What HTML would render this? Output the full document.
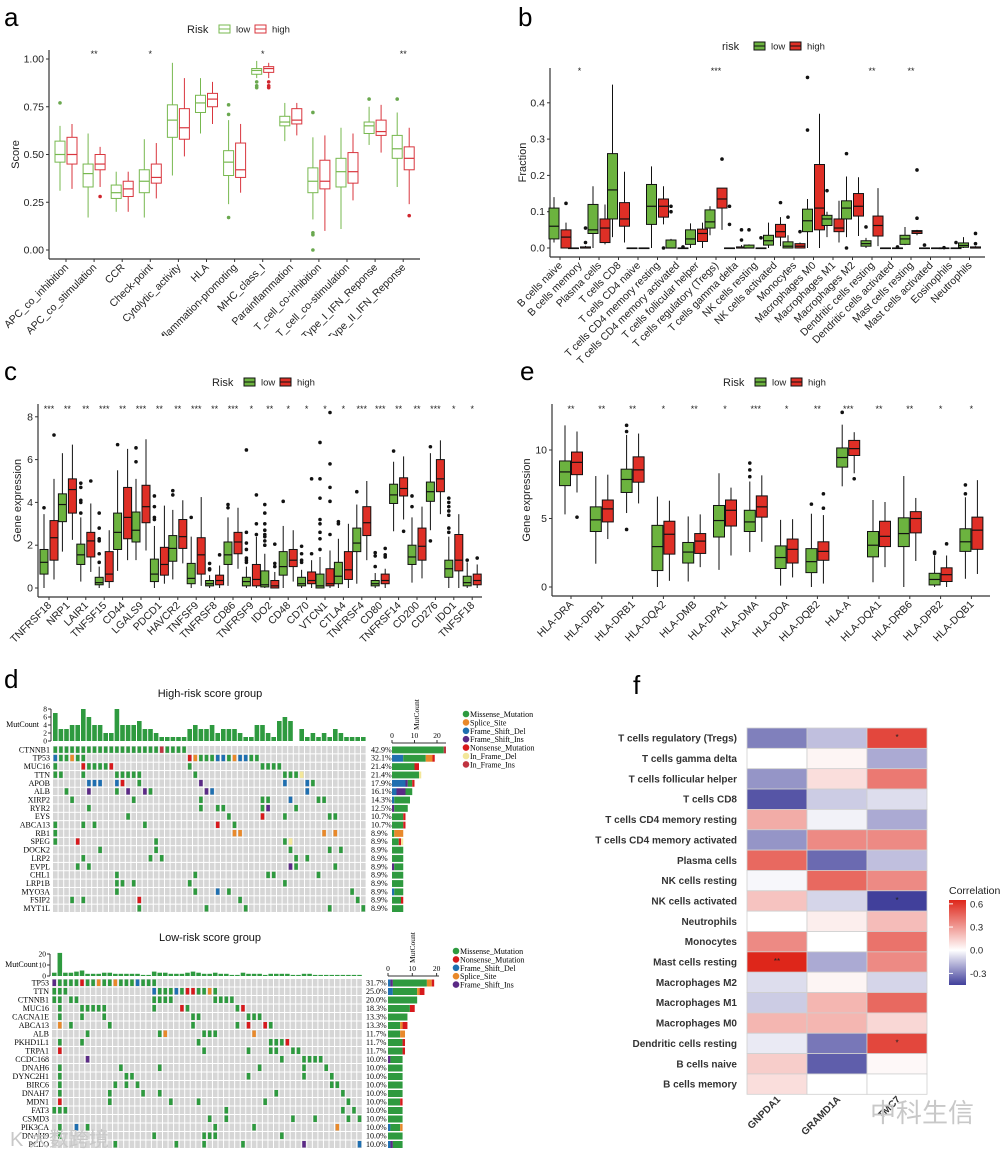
<!DOCTYPE html>
<html><head><meta charset="utf-8"><style>
html,body{margin:0;padding:0;background:#fff;}
svg{display:block;font-family:"Liberation Sans",sans-serif;}
.serif{font-family:"Liberation Serif",serif;}
</style></head><body>
<svg id="fig" width="1004" height="1151" viewBox="0 0 1004 1151" xmlns="http://www.w3.org/2000/svg">
<rect width="1004" height="1151" fill="#fff"/>
<g id="pa"></g>
<rect x="0" y="336" width="500" height="10" fill="#fff"/>
<g id="pb"></g>
<g id="pc"></g>
<g id="pe"></g>
<g id="pd"></g>
<g id="pf"></g>
<text x="4" y="26" font-size="26">a</text>
<text x="518" y="26" font-size="26">b</text>
<text x="4" y="380" font-size="26">c</text>
<text x="520" y="380" font-size="26">e</text>
<text x="4" y="688" font-size="26">d</text>
<text x="633" y="694" font-size="26">f</text>
<text x="870" y="1122" font-size="26" fill="#c8c8c8" font-family="'Noto Sans CJK SC',sans-serif">中科生信</text>
<text x="10" y="1146" font-size="20" fill="#c8c8c8" font-family="'Liberation Sans','Noto Sans CJK SC',sans-serif">K 大数跨境</text>
</svg>
<script>
// ---------- data: panel a ----------
const aCats=["APC_co_inhibition","APC_co_stimulation","CCR","Check-point","Cytolytic_activity","HLA","Inflammation-promoting","MHC_class_I","Parainflammation","T_cell_co-inhibition","T_cell_co-stimulation","Type_I_IFN_Reponse","Type_II_IFN_Reponse"];
const aLow=[[0.31,0.46,0.50,0.57,0.65],[0.17,0.33,0.40,0.45,0.61],[0.20,0.27,0.30,0.34,0.41],[0.17,0.30,0.36,0.42,0.58],[0.39,0.59,0.68,0.76,0.98],[0.61,0.72,0.77,0.81,0.90],[0.24,0.39,0.46,0.52,0.68],[0.90,0.92,0.94,0.95,0.99],[0.57,0.65,0.67,0.70,0.77],[0.16,0.30,0.36,0.43,0.59],[0.11,0.33,0.41,0.48,0.64],[0.55,0.61,0.65,0.67,0.75],[0.33,0.48,0.53,0.60,0.72]];
const aHigh=[[0.32,0.45,0.50,0.59,0.66],[0.33,0.42,0.45,0.50,0.54],[0.20,0.28,0.32,0.36,0.41],[0.27,0.35,0.38,0.45,0.56],[0.49,0.58,0.64,0.74,0.90],[0.66,0.75,0.79,0.82,0.88],[0.30,0.38,0.42,0.56,0.66],[0.90,0.93,0.95,0.96,0.98],[0.60,0.66,0.68,0.74,0.77],[0.10,0.32,0.36,0.47,0.60],[0.26,0.35,0.41,0.51,0.61],[0.51,0.60,0.62,0.68,0.76],[0.24,0.42,0.48,0.54,0.64]];
const aLowOut=[[0.77],[],[],[],[],[],[0.76,0.71,0.17],[0.88,0.86,0.85],[],[0.72,0.09,0.08,0.0],[],[0.79],[0.79]];
const aHighOut=[[],[0.28],[],[],[],[],[],[0.88,0.86,0.85],[],[],[],[],[0.18]];
const aStars=["","**","","*","","","","*","","","","","**"];
const aTicks=[0,0.25,0.5,0.75,1.0];
const aTickLabels=["0.00","0.25","0.50","0.75","1.00"];
// ---------- data: panel b ----------
const bCats=["B cells naive","B cells memory","Plasma cells","T cells CD8","T cells CD4 naive","T cells CD4 memory resting","T cells CD4 memory activated","T cells follicular helper","T cells regulatory (Tregs)","T cells gamma delta","NK cells resting","NK cells activated","Monocytes","Macrophages M0","Macrophages M1","Macrophages M2","Dendritic cells resting","Dendritic cells activated","Mast cells resting","Mast cells activated","Eosinophils","Neutrophils"];
const bLow=[[0.015,0.025,0.06,0.11,0.14],[0,0,0,0,0],[0,0.04,0.05,0.12,0.17],[0.03,0.08,0.16,0.26,0.45],[0,0,0,0,0],[0,0.065,0.115,0.175,0.225],[0,0,0,0.022,0.025],[0,0.01,0.025,0.05,0.068],[0.035,0.055,0.072,0.105,0.115],[0,0,0,0,0],[0,0,0,0.008,0.01],[0,0.008,0.02,0.035,0.07],[0,0,0.005,0.017,0.035],[0,0.045,0.075,0.107,0.135],[0.03,0.062,0.08,0.09,0.1],[0.03,0.08,0.11,0.13,0.197],[0,0.005,0.012,0.02,0.028],[0,0,0,0,0],[0.008,0.01,0.025,0.035,0.058],[0,0,0,0,0],[0,0,0,0,0],[0,0.002,0.007,0.014,0.03]];
const bHigh=[[0,0,0.03,0.05,0.07],[0,0,0,0.003,0.006],[0.01,0.015,0.055,0.08,0.12],[0.015,0.06,0.08,0.125,0.21],[0,0,0,0,0],[0.065,0.085,0.115,0.135,0.17],[0,0,0,0,0.005],[0,0.018,0.04,0.052,0.07],[0.05,0.11,0.135,0.165,0.165],[0,0,0,0.003,0.008],[0,0,0,0,0],[0.005,0.03,0.045,0.065,0.085],[0,0,0.005,0.012,0.015],[0,0.05,0.11,0.23,0.37],[0.015,0.045,0.055,0.08,0.13],[0.033,0.088,0.115,0.15,0.195],[0.005,0.033,0.062,0.088,0.165],[0,0,0,0,0],[0.035,0.04,0.045,0.048,0.05],[0,0,0,0,0],[0,0,0,0,0],[0,0,0,0.003,0.005]];
const bLowOut=[[],[],[],[],[],[],[0.115,0.1],[],[],[0.115,0.065],[0.05],[],[0.085],[0.47,0.325],[0.158],[0.26,0],[0.058],[],[],[0.008],[0.001],[]];
const bHighOut=[[0.123],[0.055,0.015],[],[],[],[0],[0.003],[],[0.245],[0.05,0.022],[0.028],[0.125],[0.045],[],[],[],[],[0.003],[0.215,0.082],[],[0.015],[0.04,0.012]];
const bStars=["","*","","","","","","","***","","","","","","","","**","","**","","",""];
const bTicks=[0,0.1,0.2,0.3,0.4];
const bTickLabels=["0.0","0.1","0.2","0.3","0.4"];
// ---------- data: panel c ----------
const cCats=["TNFRSF18","NRP1","LAIR1","TNFSF15","CD44","LGALS9","PDCD1","HAVCR2","TNFSF9","TNFRSF8","CD86","TNFRSF9","IDO2","CD48","CD70","VTCN1","CTLA4","TNFRSF4","CD80","TNFRSF14","CD200","CD276","IDO1","TNFSF18"];
const cLow=[[0,0.65,1.2,1.8,3.45],[1.7,3.1,3.9,4.4,6.3],[0.3,1.1,1.55,2.05,3.3],[0,0.15,0.25,0.5,1.0],[0.8,1.8,2.6,3.5,5.5],[1.3,2.15,2.7,3.55,5.1],[0,0.3,0.65,1.35,2.9],[0.4,1.25,1.85,2.45,3.65],[0,0.2,0.45,1.15,2.4],[0,0.1,0.2,0.35,0.6],[0.1,1.1,1.55,2.15,3.3],[0,0.1,0.3,0.5,1.0],[0,0.05,0.15,0.8,1.6],[0,0.6,1.0,1.7,2.9],[0,0.1,0.2,0.5,0.85],[0,0,0.1,0.65,1.45],[0,0.2,0.55,1.2,2.3],[0.2,1.7,2.1,2.8,3.9],[0,0.1,0.2,0.35,0.7],[2.65,3.95,4.35,4.85,5.9],[0.25,1.1,1.45,2.0,3.3],[2.7,4.05,4.5,4.95,6.3],[0,0.5,0.9,1.3,2.4],[0,0.1,0.25,0.55,1.2]];
const cHigh=[[0.4,1.3,2.35,3.15,5.1],[2.25,3.5,4.6,5.1,6.7],[0.75,1.45,2.2,2.6,3.95],[0,0.3,0.65,1.7,2.7],[1.3,2.3,3.3,4.7,6.5],[1.75,3.05,3.8,4.8,6.95],[0.2,0.6,1.1,1.9,3.85],[1.15,1.85,2.4,3.2,4.1],[0.1,0.65,1.55,2.35,4.25],[0,0.15,0.35,0.6,1.05],[0.9,1.6,2.15,2.6,3.75],[0,0.1,0.4,1.1,2.4],[0,0,0.1,0.35,0.75],[0.3,1.0,1.3,1.8,2.7],[0,0.2,0.35,0.75,1.3],[0,0.1,0.2,0.9,1.75],[0,0.4,0.85,1.7,3.0],[1.3,2.45,3.05,3.8,5.0],[0,0.2,0.35,0.65,0.9],[3.2,4.3,4.65,5.15,6.15],[0.45,1.3,1.95,2.8,3.8],[3.45,4.5,5.1,6.0,6.9],[0,0.8,1.3,2.5,3.45],[0,0.15,0.35,0.65,1.1]];
const cLowOut=[[3.75],[],[4.9,4.7,4.1,4.0,3.5],[3.5,2.8,2.3,2.2,1.6,1.2],[6.7],[6.55,5.9],[4.3,3.8,3.3,3.2],[4.55,4.35],[3.3],[1.15,0.9,0.85],[3.9,3.75],[6.45,2.6,2.1,1.8,1.4,1.3,1.2],[3.9,3.5,3.0,2.7,2.5,2.4,2.2,2.0],[4.05],[1.95,1.6,1.3,1.2],[6.8,5.1,4.2,3.2,3.0,2.6,2.3,1.8],[3.1,3.0],[4.5],[1.65,1.5,1.0],[6.4],[4.3,3.8],[6.6,2.2],[4.2,4.0,3.8,3.6,3.4,2.8,2.6],[1.3]];
const cHighOut=[[7.15],[],[5.0],[],[],[],[],[],[],[1.55],[],[4.35,3.0,2.5],[2.05,1.15,1.0],[],[5.1,1.6],[8.2,5.8,4.7,4.05,2.5],[],[],[1.85,1.55,1.45],[2.65],[],[],[],[1.4]];
const cStars=["***","**","**","***","**","***","**","**","***","**","***","*","**","*","*","*","*","***","***","**","**","***","*","*"];
const cTicks=[0,2,4,6,8];
// ---------- data: panel e ----------
const eCats=["HLA-DRA","HLA-DPB1","HLA-DRB1","HLA-DQA2","HLA-DMB","HLA-DPA1","HLA-DMA","HLA-DOA","HLA-DQB2","HLA-A","HLA-DQA1","HLA-DRB6","HLA-DPB2","HLA-DQB1"];
const eLow=[[5.3,7.4,8.4,9.2,11.8],[1.7,4.05,4.9,5.85,8.1],[5.4,6.9,7.85,8.6,11.1],[0,1.2,2.95,4.5,6.6],[0.4,1.75,2.55,3.25,5.15],[1.25,3.65,4.85,5.95,8.3],[2.55,4.05,4.75,5.6,7.7],[0.1,1.35,2.15,3.0,4.9],[0,1.05,1.85,2.8,5.35],[7.35,8.75,9.45,10.15,11.85],[0.35,2.2,3.05,4.05,6.35],[0,2.95,3.9,5.05,8.1],[0,0.15,0.55,1.0,2.3],[0.6,2.6,3.3,4.25,6.55]];
const eHigh=[[6.9,8.2,9.1,9.85,11.35],[3.5,4.75,5.7,6.35,8.2],[6.1,7.65,8.55,9.5,11.2],[0.45,2.4,3.85,4.8,6.3],[1.45,2.45,3.35,3.9,5.3],[2.3,4.45,5.6,6.35,7.25],[3.3,5.1,5.85,6.65,8.15],[0.7,1.75,2.75,3.5,4.95],[0.25,1.95,2.6,3.3,5.25],[8.3,9.6,10.1,10.7,11.3],[1.45,2.95,3.7,4.8,6.2],[1.9,3.95,5.0,5.5,6.5],[0,0.4,0.9,1.4,2.3],[0.95,2.75,4.15,5.1,7.8]];
const eLowOut=[[],[],[11.8,11.35,4.2],[],[],[],[9.05,8.55,8.05],[],[6.05],[12.75],[],[],[2.55,2.45],[7.45,6.8]];
const eHighOut=[[5.1],[],[],[],[],[],[],[],[6.8,5.75],[7.9],[],[],[3.15],[]];
const eStars=["**","**","**","*","**","*","***","*","**","***","**","**","*","*"];
const eTicks=[0,5,10];
// ---------- data: panel d ----------
const hiGenes=["CTNNB1","TP53","MUC16","TTN","APOB","ALB","XIRP2","RYR2","EYS","ABCA13","RB1","SPEG","DOCK2","LRP2","EVPL","CHL1","LRP1B","MYO3A","FSIP2","MYT1L"];
const hiPct=["42.9%","32.1%","21.4%","21.4%","17.9%","16.1%","14.3%","12.5%","10.7%","10.7%","8.9%","8.9%","8.9%","8.9%","8.9%","8.9%","8.9%","8.9%","8.9%","8.9%"];
const hiMuts=["0g 1g 2g 3g 4g 5g 6g 7g 8g 9g 10g 11g 12g 13g 14g 15g 16g 17g 18g 19d 20g 21g 22g 23g","0b 1g 2g 3o 4g 5g 24r 25o 26g 27g 28g 29b 30b 31g 32o 33b 34b 35g 36g","0g 5r 6g 7g 8g 9g 10r 24g 37g 38g 39g 40g","0g 1g 5g 11g 12g 13g 14g 15g 25g 41g 42g 43g 44y","6b 7b 8b 11b 12r 15g 26p 41b 45b 46g","2g 6p 11g 13p 16p 17g 27p 28b 45b","3g 14g 26g 37g 38g 42b 47g 48g","6g 26g 29g 30g 37g 38p 43g","13g 31g 37r 41g 49g 50g","0g 5g 7g 16g 29r 32g","0g 32o 33o 48o 50o","0g 4r 18g 41g 42y","8g 18g 42g 49g 51g","5g 17g 19g 43g 45g","4g 6g 42p 43g 50g","11g 25g 38g 39g 47g","11g 12g 14g 24g 41g","11g 25g 29b 31g 53g","3g 5g 15r 33g 54g","15g 27g 34g 49g 55g"];
const hiCounts=[7,3,3,4,4,8,6,4,4,2,2,8,4,4,4,5,3,3,2,1,1,1,1,1,3,4,3,3,4,2,3,3,3,2,1,1,4,4,2,1,5,6,5,0,3,1,2,1,2,1,3,2,1,1,1,1];
const loGenes=["TP53","TTN","CTNNB1","MUC16","CACNA1E","ABCA13","ALB","PKHD1L1","TRPA1","CCDC168","DNAH6","DYNC2H1","BIRC6","DNAH7","MDN1","FAT3","CSMD3","PIK3CA","DNAH9","PCLO"];
const loPct=["31.7%","25.0%","20.0%","18.3%","13.3%","13.3%","11.7%","11.7%","11.7%","10.0%","10.0%","10.0%","10.0%","10.0%","10.0%","10.0%","10.0%","10.0%","10.0%","10.0%"];
const loMuts=["0p 1g 2g 3g 4g 5r 6g 7g 8o 9g 10g 11o 12g 13g 14g 15b 16g 17g 18g","0g 1g 2g 18b 19g 20g 21g 22b 23g 24r 25r 26g 27g 28o 29g","0g 3g 4g 18g 19g 20g 21g 29g 30g 31g 32g 1g","1g 5g 6g 7g 8g 9g 18g 23r 24g 33g 34r","1g 5g 9g 25g 26g 35g 36g 37g","1o 3g 10g 25g 33g 35r 38r 39g","6g 19g 20o 27g 28g 29g 36o","1g 5g 26g 39g 40g 41g 42r","1r 27g 35g 39g 40g 43g 44g","6p 41g 45g 46g 47g 48g","1g 12g 19g 37g 45g 49g","1g 13g 14g 35g 45g 50g","1g 11g 13g 15g 50g 51g","1g 10g 16g 19g 40g 52g","1r 10g 21g 26g 38g 53g","0g 1g 2g 31g 52g 54g","28g 31g 43g 47g 53g 55g","1g 4b 6g 29g 36g 51o","1g 18g 27g 28g 29g 41g","11g 22g 27g 34g 45p 55b"];
const loCounts=[3,27,3,3,4,5,2,2,2,3,3,2,2,2,2,2,1,1,4,3,3,2,2,2,3,4,3,2,2,3,2,2,1,1,3,2,2,2,1,2,2,2,2,1,1,2,2,1,1,1,1,1,1,1,1,1];
// ---------- data: panel f ----------
const fRows=["T cells regulatory (Tregs)","T cells gamma delta","T cells follicular helper","T cells CD8","T cells CD4 memory resting","T cells CD4 memory activated","Plasma cells","NK cells resting","NK cells activated","Neutrophils","Monocytes","Mast cells resting","Macrophages M2","Macrophages M1","Macrophages M0","Dendritic cells resting","B cells naive","B cells memory"];
const fCols=["GNPDA1","GRAMD1A","TMC7"];
const fGNPDA1=[-0.3,0.0,-0.25,-0.4,0.25,-0.25,0.45,-0.02,0.18,0.0,0.35,0.65,-0.08,-0.12,0.22,-0.05,0.15,0.1];
const fGRAMD=[-0.15,0.03,0.1,-0.12,-0.03,0.35,-0.35,0.45,-0.1,0.05,0.0,-0.2,0.03,0.22,0.22,-0.32,-0.38,0.0];
const fTMC7=[0.55,-0.2,0.4,-0.08,-0.2,0.35,-0.15,0.35,-0.5,0.2,0.42,0.35,-0.1,0.45,0.12,0.55,0.02,0.0];
const fSig=[["","","*"],["","",""],["","",""],["","",""],["","",""],["","",""],["","",""],["","",""],["","","*"],["","",""],["","",""],["**","",""],["","",""],["","",""],["","",""],["","","*"],["","",""],["","",""]];
const fLegendTicks=[0.6,0.3,0.0,-0.3];

// ---------- helpers ----------
const NS="http://www.w3.org/2000/svg";
function mk(tag,attrs,parent,txt){const e=document.createElementNS(NS,tag);for(const k in attrs)e.setAttribute(k,attrs[k]);if(txt!==undefined)e.textContent=txt;parent.appendChild(e);return e;}
function nm(e,name){


}
function box(g,cx,w,s,outs,y,fill,stroke,ofill,name){
  const grp=mk('g',{},g);nm(grp,name);
  let l=mk('line',{x1:cx,x2:cx,y1:y(s[0]),y2:y(s[1]),stroke:stroke,'stroke-width':1},grp);nm(l,'whisker-low');
  l=mk('line',{x1:cx,x2:cx,y1:y(s[3]),y2:y(s[4]),stroke:stroke,'stroke-width':1},grp);nm(l,'whisker-high');
  const r=mk('rect',{x:cx-w/2,y:y(s[3]),width:w,height:Math.max(0.6,y(s[1])-y(s[3])),fill:fill,stroke:stroke,'stroke-width':1},grp);nm(r,'box');
  l=mk('line',{x1:cx-w/2,x2:cx+w/2,y1:y(s[2]),y2:y(s[2]),stroke:stroke,'stroke-width':1.2},grp);nm(l,'median');
  outs.forEach(v=>{const c=mk('circle',{cx:cx,cy:y(v),r:1.8,fill:ofill},grp);nm(c,'outlier');});
}
function boxPanel(g,o){
  const {cats,low,high,lowOut,highOut,stars,ticks,tickLabels,y,x,ax,top,bottom,right,lowFill,highFill,lowStroke,highStroke,lowO,highO,off,w,title,titleX,starY}=o;
  let a=mk('line',{x1:ax,x2:ax,y1:top,y2:bottom,stroke:'#333','stroke-width':1.2},g);nm(a,'y-axis');
  a=mk('line',{x1:ax,x2:right,y1:bottom,y2:bottom,stroke:'#333','stroke-width':1.2},g);nm(a,'x-axis');
  ticks.forEach((t,i)=>{let tl=mk('line',{x1:ax-3,x2:ax,y1:y(t),y2:y(t),stroke:'#333'},g);nm(tl,'y-tick');
    let tx=mk('text',{x:ax-5,y:y(t)+3.5,'font-size':10.5,'text-anchor':'end',fill:'#222'},g,tickLabels?tickLabels[i]:String(t));nm(tx,'y-tick-label');});
  const tt=mk('text',{x:titleX,y:(top+bottom)/2,'font-size':11,'text-anchor':'middle',transform:`rotate(-90 ${titleX} ${(top+bottom)/2})`,fill:'#222'},g,title);nm(tt,'y-axis-title');
  cats.forEach((c,i)=>{const cx=x(i);
    let tl=mk('line',{x1:cx,x2:cx,y1:bottom,y2:bottom+3,stroke:'#333'},g);nm(tl,'x-tick');
    let lb=mk('text',{x:cx+3,y:bottom+9,'font-size':10.5,'text-anchor':'end',transform:`rotate(-45 ${cx+3} ${bottom+9})`,fill:'#222'},g,c);nm(lb,'x-tick-label');
    box(g,cx-off,w,low[i],lowOut[i],y,lowFill,lowStroke,lowO,'box-low-'+i);
    box(g,cx+off,w,high[i],highOut[i],y,highFill,highStroke,highO,'box-high-'+i);
    if(stars[i]){let s=mk('text',{x:cx,y:starY,'font-size':9,'text-anchor':'middle',fill:'#222'},g,stars[i]);nm(s,'significance-mark');}
  });
}
function legend(g,x,y,label,lf,hf,ls,hs){
  let t=mk('text',{x:x,y:y+4,'font-size':11,fill:'#222'},g,label);nm(t,'legend-title');
  const bx=x+label.length*6.5+6;
  let r=mk('rect',{x:bx,y:y-4,width:11,height:8,fill:lf,stroke:ls},g);nm(r,'legend-key-low');
  let l=mk('line',{x1:bx,x2:bx+11,y1:y,y2:y,stroke:ls},g);nm(l,'legend-key-median');
  t=mk('text',{x:bx+17,y:y+3.5,'font-size':9.5,fill:'#222'},g,'low');nm(t,'legend-label-low');
  r=mk('rect',{x:bx+36,y:y-4,width:11,height:8,fill:hf,stroke:hs},g);nm(r,'legend-key-high');
  l=mk('line',{x1:bx+36,x2:bx+47,y1:y,y2:y,stroke:hs},g);nm(l,'legend-key-median');
  t=mk('text',{x:bx+53,y:y+3.5,'font-size':9.5,fill:'#222'},g,'high');nm(t,'legend-label-high');
}
const GREEN='#6cb33f',RED='#df2f26';
// panel a
{const g=document.getElementById('pa');const y=v=>250-v*191,x=i=>66+i*28.1;
legend(g,187,29,'Risk','#fff','#fff','#77b84f','#d9363e');
boxPanel(g,{cats:aCats,low:aLow,high:aHigh,lowOut:aLowOut,highOut:aHighOut,stars:aStars,ticks:aTicks,tickLabels:aTickLabels,y,x,ax:49,top:50,bottom:259,right:420,lowFill:'#fff',highFill:'#fff',lowStroke:'#77b84f',highStroke:'#d9363e',lowO:'#6aa84f',highO:'#d0262e',off:6,w:10,title:'Score',titleX:19,starY:57});}
// panel b
{const g=document.getElementById('pb');const y=v=>248-v*363,x=i=>560+i*19.5;
legend(g,722,46,'risk',GREEN,RED,'#111','#111');
boxPanel(g,{cats:bCats,low:bLow,high:bHigh,lowOut:bLowOut,highOut:bHighOut,stars:bStars,ticks:bTicks,tickLabels:bTickLabels,y,x,ax:550,top:68,bottom:257,right:985,lowFill:GREEN,highFill:RED,lowStroke:'#111',highStroke:'#111',lowO:'#111',highO:'#111',off:6,w:10,title:'Fraction',titleX:526,starY:74});}
// panel c
{const g=document.getElementById('pc');const y=v=>588-v*21.4,x=i=>49+i*18.4;
legend(g,212,382,'Risk',GREEN,RED,'#111','#111');
boxPanel(g,{cats:cCats,low:cLow,high:cHigh,lowOut:cLowOut,highOut:cHighOut,stars:cStars,ticks:cTicks,y,x,ax:38,top:404,bottom:597,right:482,lowFill:GREEN,highFill:RED,lowStroke:'#111',highStroke:'#111',lowO:'#111',highO:'#111',off:5,w:8,title:'Gene expression',titleX:21,starY:412});}
// panel e
{const g=document.getElementById('pe');const y=v=>587-v*13.7,x=i=>571+i*30.8;
legend(g,723,382,'Risk',GREEN,RED,'#111','#111');
boxPanel(g,{cats:eCats,low:eLow,high:eHigh,lowOut:eLowOut,highOut:eHighOut,stars:eStars,ticks:eTicks,y,x,ax:552,top:404,bottom:596,right:990,lowFill:GREEN,highFill:RED,lowStroke:'#111',highStroke:'#111',lowO:'#111',highO:'#111',off:6,w:11,title:'Gene expression',titleX:530,starY:412});}
// panel d
const MC={g:'#2e9a3f',o:'#e8892b',b:'#1f6fb0',p:'#5b2a86',r:'#d7191c',y:'#f3e79a',d:'#c03440'};
function onco(g,o){
  const t=mk('text',{x:o.titleX,y:o.titleY,'font-size':11,'text-anchor':'middle',fill:'#111'},g,o.title);nm(t,'oncoplot-title');
  const cw=o.colW;
  // count bars
  let ax=mk('line',{x1:o.x0-2,x2:o.x0-2,y1:o.cY0-o.cMax*o.cScale,y2:o.cY0,stroke:'#333'},g);nm(ax,'mutcount-axis');
  o.cTicks.forEach(v=>{let l=mk('line',{x1:o.x0-5,x2:o.x0-2,y1:o.cY0-v*o.cScale,y2:o.cY0-v*o.cScale,stroke:'#333'},g);nm(l,'mutcount-tick');
    let tx=mk('text',{x:o.x0-6,y:o.cY0-v*o.cScale+2.5,'font-size':7.5,'text-anchor':'end',class:'serif'},g,String(v));nm(tx,'mutcount-tick-label');});
  let ml=mk('text',{x:o.x0-14,y:o.cY0-o.cMax*o.cScale*0.5+2,'font-size':8,'text-anchor':'end',class:'serif'},g,'MutCount');nm(ml,'mutcount-label');
  o.counts.forEach((c,i)=>{const h=Math.min(c,o.cMax+1)*o.cScale;let r=mk('rect',{x:o.x0+i*cw,y:o.cY0-h,width:cw-1,height:h,fill:MC.g},g);nm(r,'mutcount-bar');});
  o.genes.forEach((gn,ri)=>{const yy=o.y0+ri*o.rowH;
    let lb=mk('text',{x:o.x0-3,y:yy+o.rowH-2,'font-size':8,'text-anchor':'end',class:'serif'},g,gn);nm(lb,'gene-label');
    for(let ci=0;ci<o.nCols;ci++){let r=mk('rect',{x:o.x0+ci*cw,y:yy,width:cw-1,height:o.rowH-1,fill:'#d6d6d6'},g);nm(r,'empty-cell');}
    const seg={};
    o.muts[ri].split(' ').forEach(tok=>{const ci=parseInt(tok),ty=tok.slice(-1);seg[ty]=(seg[ty]||0)+1;
      let r=mk('rect',{x:o.x0+ci*cw+0.5,y:yy+0.5,width:cw-2,height:o.rowH-2,fill:MC[ty]},g);nm(r,'mutation-cell');});
    let p=mk('text',{x:o.pctX,y:yy+o.rowH-2,'font-size':8,class:'serif'},g,o.pct[ri]);nm(p,'percent-label');
    let bx=o.barX;['b','p','g','o','r','y','d'].forEach(ty=>{if(seg[ty]){let r=mk('rect',{x:bx,y:yy+0.5,width:seg[ty]*o.barScale,height:o.rowH-1.5,fill:MC[ty]},g);nm(r,'gene-count-bar');bx+=seg[ty]*o.barScale;}});
  });
  let ra=mk('line',{x1:o.barX,x2:o.barX+o.barMax*o.barScale,y1:o.y0-3,y2:o.y0-3,stroke:'#333'},g);nm(ra,'gene-count-axis');
  [0,10,20].forEach(v=>{let l=mk('line',{x1:o.barX+v*o.barScale,x2:o.barX+v*o.barScale,y1:o.y0-6,y2:o.y0-3,stroke:'#333'},g);nm(l,'gene-count-tick');
    let tx=mk('text',{x:o.barX+v*o.barScale,y:o.y0-8,'font-size':7.5,'text-anchor':'middle',class:'serif'},g,String(v));nm(tx,'gene-count-tick-label');});
  const vx=o.barX+27,vy=o.y0-16;let vl=mk('text',{x:vx,y:vy,'font-size':7.5,transform:`rotate(-90 ${vx} ${vy})`,class:'serif'},g,'MutCount');nm(vl,'gene-count-label');
  o.legend.forEach((it,i)=>{let c=mk('circle',{cx:o.legX,cy:o.legY+i*8.4,r:3.3,fill:MC[it[0]]},g);nm(c,'legend-dot');
    let tx=mk('text',{x:o.legX+4,y:o.legY+i*8.4+3,'font-size':8,class:'serif'},g,it[1]);nm(tx,'legend-entry');});
}
{const g=document.getElementById('pd');
onco(g,{title:'High-risk score group',titleX:210,titleY:697,x0:53,colW:5.6,nCols:56,y0:746,rowH:8.35,genes:hiGenes,muts:hiMuts,pct:hiPct,counts:hiCounts,cY0:741,cScale:4,cMax:8,cTicks:[0,2,4,6,8],pctX:371,barX:392,barScale:2.25,barMax:24,legX:466,legY:714,
legend:[['g','Missense_Mutation'],['o','Splice_Site'],['b','Frame_Shift_Del'],['p','Frame_Shift_Ins'],['r','Nonsense_Mutation'],['y','In_Frame_Del'],['d','In_Frame_Ins']]});
onco(g,{title:'Low-risk score group',titleX:210,titleY:941,x0:52,colW:5.55,nCols:56,y0:979,rowH:8.5,genes:loGenes,muts:loMuts,pct:loPct,counts:loCounts,cY0:976,cScale:1.1,cMax:20,cTicks:[0,10,20],pctX:366,barX:388,barScale:2.43,barMax:21,legX:456,legY:951,
legend:[['g','Missense_Mutation'],['r','Nonsense_Mutation'],['b','Frame_Shift_Del'],['o','Splice_Site'],['p','Frame_Shift_Ins']]});}
// panel f
function corrColor(v){let c1,t;if(v<0){c1=[65,64,155];t=Math.min(1,-v/0.45);}else{c1=[222,38,26];t=Math.min(1,v/0.65);}
  return `rgb(${Math.round(255+(c1[0]-255)*t)},${Math.round(255+(c1[1]-255)*t)},${Math.round(255+(c1[2]-255)*t)})`;}
{const g=document.getElementById('pf');const x0=747,cw=60,y0=728,rh=20.35;const cols=[fGNPDA1,fGRAMD,fTMC7];
fRows.forEach((rn,ri)=>{const yy=y0+ri*rh;
  let t=mk('text',{x:737,y:yy+rh/2+3.5,'font-size':10,'font-weight':'bold','text-anchor':'end',fill:'#333'},g,rn);nm(t,'row-label');
  cols.forEach((arr,ci)=>{let r=mk('rect',{x:x0+ci*cw,y:yy,width:cw,height:rh,fill:corrColor(arr[ri]),stroke:'#cfcfcf','stroke-width':0.8},g);nm(r,'heatmap-cell');
    if(fSig[ri][ci]){let s=mk('text',{x:x0+ci*cw+cw/2,y:yy+rh/2+2,'font-size':8,'text-anchor':'middle',fill:'#222'},g,fSig[ri][ci]);nm(s,'significance-mark');}});
});
fCols.forEach((c,ci)=>{const cx=x0+ci*cw+cw/2+4,cy=1100;let t=mk('text',{x:cx,y:cy,'font-size':10,'font-weight':'bold','text-anchor':'end',transform:`rotate(-45 ${cx} ${cy})`,fill:'#333'},g,c);nm(t,'column-label');});
let lt=mk('text',{x:949,y:894,'font-size':10.5,fill:'#222'},g,'Correlation');nm(lt,'colorbar-title');
const defs=mk('defs',{},g);const lg=mk('linearGradient',{id:'cg',x1:0,y1:0,x2:0,y2:1},defs);
[0.65,0.3,0,-0.2,-0.45].forEach(v=>{mk('stop',{offset:((0.65-v)/1.1),'stop-color':corrColor(v)},lg);});
let cb=mk('rect',{x:949,y:900,width:17,height:85,fill:'url(#cg)'},g);nm(cb,'colorbar');
fLegendTicks.forEach(v=>{const yy=900+(0.65-v)/1.1*85;let l=mk('line',{x1:949,x2:953,y1:yy,y2:yy,stroke:'#fff'},g);nm(l,'colorbar-tick');
  let t=mk('text',{x:970,y:yy+3.5,'font-size':9.5,fill:'#222'},g,v.toFixed(1));nm(t,'colorbar-tick-label');});}
</script>
</body></html>
